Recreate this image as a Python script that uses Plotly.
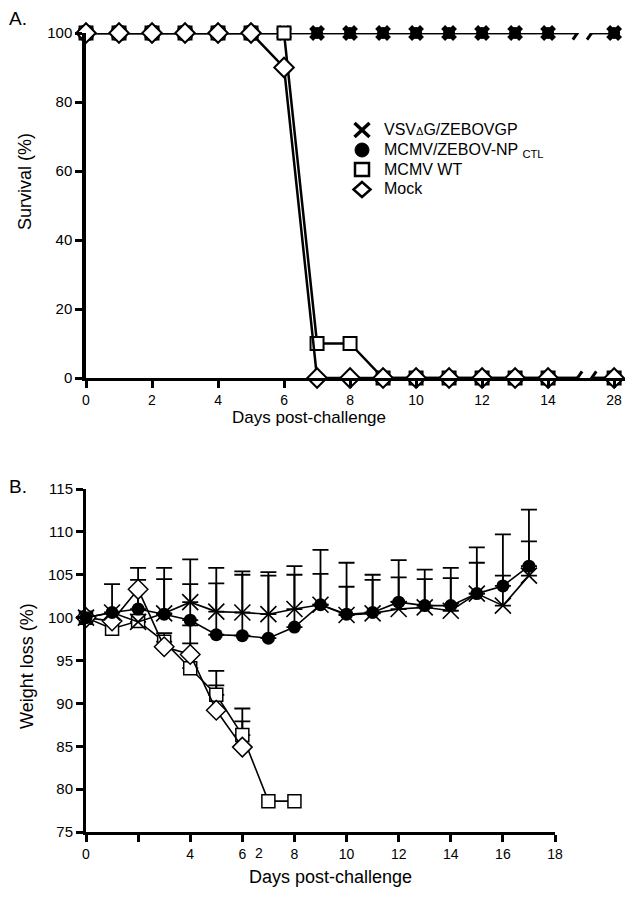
import plotly.graph_objects as go

# page window is 634x897; the browser body adds an 8px margin around the figure
OFF = 8
W, H = 634 - OFF, 897 - OFF
FONT = "Liberation Sans, Arial, sans-serif"

# ---------------- Panel A: survival ----------------
days_a = [0, 1, 2, 3, 4, 5, 6, 7, 8, 9, 10, 11, 12, 13, 14, 28]
day_a_ticks = [0, 2, 4, 6, 8, 10, 12, 14, 28]
surv_vsv = [100, 100, 100, 100, 100, 100, 100, 100, 100, 100, 100, 100, 100, 100, 100, 100]
surv_ctl = [100, 100, 100, 100, 100, 100, 100, 100, 100, 100, 100, 100, 100, 100, 100, 100]
surv_wt = [100, 100, 100, 100, 100, 100, 100, 10, 10, 0, 0, 0, 0, 0, 0, 0]
surv_mock = [100, 100, 100, 100, 100, 100, 90, 0, 0, 0, 0, 0, 0, 0, 0, 0]
surv_yticks = [0, 20, 40, 60, 80, 100]

# ---------------- Panel B: weight ----------------
days_b = [0, 1, 2, 3, 4, 5, 6, 7, 8, 9, 10, 11, 12, 13, 14, 15, 16, 17]
wt_vsv = [100, 100.6, 99.5, 100.5, 101.8, 100.7, 100.6, 100.4, 101.0, 101.5, 100.3, 100.5, 101.0, 101.2, 100.8, 102.8, 101.4, 104.9]
wt_vsv_top = [None, 103.9, 105.8, 105.8, 106.8, 105.8, 105.4, 105.3, 106.0, 107.9, 106.4, 105.0, 106.7, 105.6, 105.8, 108.2, 104.9, 112.6]
wt_ctl = [100, 100.6, 101.0, 100.4, 99.7, 98.0, 97.9, 97.6, 98.9, 101.5, 100.4, 100.6, 101.8, 101.4, 101.4, 102.8, 103.7, 106.0]
wt_ctl_top = [None, None, 104.4, 104.5, 103.9, 104.0, 105.0, 104.9, 105.0, 105.1, 103.6, 104.4, 104.7, 104.5, 104.6, 106.4, 109.7, 108.9]
days_wt = [0, 1, 2, 3, 4, 5, 6, 7, 8]
wt_wt = [100, 98.7, 99.6, 97.2, 94.1, 91.0, 86.3, 78.6, 78.6]
wt_wt_top = [None, None, None, 98.2, 97.0, 93.8, 89.4, None, None]
days_mock = [0, 1, 2, 3, 4, 5, 6]
wt_mock = [100, 99.6, 103.3, 96.6, 95.7, 89.2, 84.9]
wt_mock_top = [None, None, None, None, 99.1, 92.1, 87.9]
day_b_ticks = [0, 2, 4, 6, 8, 10, 12, 14, 16, 18]
day_b_labels = ["0", "", "4", "6", "8", "10", "12", "14", "16", "18"]
weight_yticks = [75, 80, 85, 90, 95, 100, 105, 110, 115]

# break position for the compressed day-28 column
BREAK_LAST = 14
BREAK_POS = 16


def apos(d):
    return d if d <= BREAK_LAST else BREAK_POS


def pxx(x):
    return (x - OFF) / W


def pxy(y):
    return 1 - (y - OFF) / H


fig = go.Figure()

# ----- top panel traces -----
top_series = [
    ("MCMV/ZEBOV-NP CTL", surv_ctl, dict(symbol="circle", size=12, color="black")),
    ("VSVΔG/ZEBOVGP", surv_vsv, dict(symbol="x", size=14, color="black", line=dict(width=0))),
    ("MCMV WT", surv_wt, dict(symbol="square", size=13, color="white", line=dict(color="black", width=2))),
    ("Mock", surv_mock, dict(symbol="diamond", size=15, color="white", line=dict(color="black", width=2))),
]
xa = [apos(d) for d in days_a]
for name, ys, mk in top_series:
    fig.add_trace(go.Scatter(x=xa, y=ys, mode="lines+markers", name=name,
                             line=dict(color="black", width=2.5), marker=mk,
                             cliponaxis=False, xaxis="x", yaxis="y", showlegend=False))


# ----- bottom panel: error bars (upper only) -----
def err_trace(xs, ys, tops):
    sx, sy, se = [], [], []
    for x, y, t in zip(xs, ys, tops):
        if t is not None:
            sx.append(x)
            sy.append(y)
            se.append(t - y)
    return go.Scatter(x=sx, y=sy, mode="markers", marker=dict(size=1, opacity=0),
                      error_y=dict(type="data", symmetric=False, array=se, arrayminus=[0] * len(se),
                                   color="black", thickness=1.8, width=8),
                      cliponaxis=False, xaxis="x2", yaxis="y2", showlegend=False, hoverinfo="skip")


fig.add_trace(err_trace(days_wt, wt_wt, wt_wt_top))
fig.add_trace(err_trace(days_mock, wt_mock, wt_mock_top))
fig.add_trace(err_trace(days_b, wt_vsv, wt_vsv_top))
fig.add_trace(err_trace(days_b, wt_ctl, wt_ctl_top))

bottom_series = [
    (days_wt, wt_wt, dict(symbol="square", size=13, color="white", line=dict(color="black", width=1.5))),
    (days_mock, wt_mock, dict(symbol="diamond", size=15, color="white", line=dict(color="black", width=1.5))),
    (days_b, wt_vsv, dict(symbol="x-thin-open", size=16, color="black", line=dict(color="black", width=1.6))),
    (days_b, wt_ctl, dict(symbol="circle", size=13, color="black")),
]
for xs, ys, mk in bottom_series:
    fig.add_trace(go.Scatter(x=xs, y=ys, mode="lines+markers", line=dict(color="black", width=1.6),
                             marker=mk, cliponaxis=False, xaxis="x2", yaxis="y2", showlegend=False))

# ----- shapes: axis break, legend keys -----
shapes = []
g0, g1 = 14.89, 15.32
shapes.append(dict(type="rect", xref="x", yref="y", x0=g0, x1=g1, y0=-6, y1=106,
                   fillcolor="white", line=dict(width=0), layer="above"))
for yv in (surv_yticks[0], surv_yticks[-1]):
    for xc in (g0, g1):
        shapes.append(dict(type="line", xref="x", yref="y", x0=xc - 0.14, x1=xc + 0.14,
                           y0=yv - 1.9, y1=yv + 1.9, line=dict(color="black", width=3), layer="above"))

# legend keys (pixel positions converted to paper)
kx = 362
for (a, b, c, d) in [(-7.5, -7, 7.5, 7), (-7.5, 7, 7.5, -7)]:
    shapes.append(dict(type="line", xref="paper", yref="paper",
                       x0=pxx(kx + a), y0=pxy(130 + b), x1=pxx(kx + c), y1=pxy(130 + d),
                       line=dict(color="black", width=3.5)))
shapes.append(dict(type="circle", xref="paper", yref="paper", x0=pxx(kx - 7), x1=pxx(kx + 7),
                   y0=pxy(150 - 7), y1=pxy(150 + 7), fillcolor="black", line=dict(color="black", width=1)))
shapes.append(dict(type="rect", xref="paper", yref="paper", x0=pxx(kx - 7), x1=pxx(kx + 7),
                   y0=pxy(169.5 - 6.5), y1=pxy(169.5 + 6.5), fillcolor="white",
                   line=dict(color="black", width=2.5)))
dy = 189.5
path = "M {} {} L {} {} L {} {} L {} {} Z".format(
    pxx(kx), pxy(dy - 7.5), pxx(kx + 8.5), pxy(dy), pxx(kx), pxy(dy + 7.5), pxx(kx - 8.5), pxy(dy))
shapes.append(dict(type="path", xref="paper", yref="paper", path=path, fillcolor="white",
                   line=dict(color="black", width=2.5)))

# ----- annotations -----
ann = []
legend_texts = [
    ("VSV<span style='font-size:11px'>Δ</span>G/ZEBOVGP", 129),
    ("MCMV/ZEBOV-NP <sub>CTL</sub>", 150),
    ("MCMV WT", 169),
    ("Mock", 188),
]
for t, y in legend_texts:
    ann.append(dict(text=t, xref="paper", yref="paper", x=pxx(382), y=pxy(y), xanchor="left",
                    yanchor="middle", showarrow=False, font=dict(size=16, color="black", family=FONT)))

ann.append(dict(text="A.", xref="paper", yref="paper", x=pxx(18), y=pxy(19), showarrow=False,
                xanchor="center", yanchor="middle", font=dict(size=19, color="black", family=FONT)))
ann.append(dict(text="B.", xref="paper", yref="paper", x=pxx(18), y=pxy(487), showarrow=False,
                xanchor="center", yanchor="middle", font=dict(size=19, color="black", family=FONT)))
ann.append(dict(text="Survival (%)", xref="paper", yref="paper", x=pxx(25), y=pxy(182), textangle=-90,
                xanchor="center", yanchor="middle",
                showarrow=False, font=dict(size=18, color="black", family=FONT)))
ann.append(dict(text="Days post-challenge", xref="paper", yref="paper", x=pxx(309), y=pxy(418),
                xanchor="center", yanchor="middle",
                showarrow=False, font=dict(size=17, color="black", family=FONT)))
ann.append(dict(text="Weight loss (%)", xref="paper", yref="paper", x=pxx(27), y=pxy(666), textangle=-90,
                xanchor="center", yanchor="middle",
                showarrow=False, font=dict(size=18, color="black", family=FONT)))
ann.append(dict(text="Days post-challenge", xref="paper", yref="paper", x=pxx(330), y=pxy(877),
                xanchor="center", yanchor="middle",
                showarrow=False, font=dict(size=18, color="black", family=FONT)))
ann.append(dict(text="2", xref="x2", yref="paper", x=6.64, y=pxy(853), showarrow=False,
                xanchor="center", yanchor="middle",
                font=dict(size=14, color="black", family=FONT)))

axis_common = dict(showline=True, linecolor="black", ticks="outside", tickcolor="black",
                   ticklen=7, tickwidth=2.5, showgrid=False, zeroline=False, automargin=False,
                   tickfont=dict(size=14, color="black", family=FONT))

fig.update_layout(
    template="none",
    width=W, height=H, margin=dict(l=0, r=0, t=0, b=0, pad=0, autoexpand=False),
    paper_bgcolor="white", plot_bgcolor="white", showlegend=False,
    font=dict(family=FONT, color="black"),
    xaxis=dict(axis_common, domain=[pxx(86), pxx(625)], range=[0, 16.33], linewidth=3,
               tickvals=[apos(d) for d in day_a_ticks], ticktext=[str(d) for d in day_a_ticks], anchor="y"),
    yaxis=dict(axis_common, domain=[pxy(378), pxy(33)], range=[0, 100], linewidth=3.5,
               tickvals=surv_yticks, tickfont=dict(size=15, color="black", family=FONT), anchor="x"),
    xaxis2=dict(axis_common, domain=[pxx(86), pxx(555)], range=[0, 18], linewidth=3,
                tickvals=day_b_ticks, ticktext=day_b_labels, anchor="y2"),
    yaxis2=dict(axis_common, domain=[pxy(832), pxy(489)], range=[75, 115], linewidth=3,
                tickvals=weight_yticks, tickfont=dict(size=15, color="black", family=FONT), anchor="x2"),
    shapes=shapes, annotations=ann,
)

fig.write_html("out.html")
